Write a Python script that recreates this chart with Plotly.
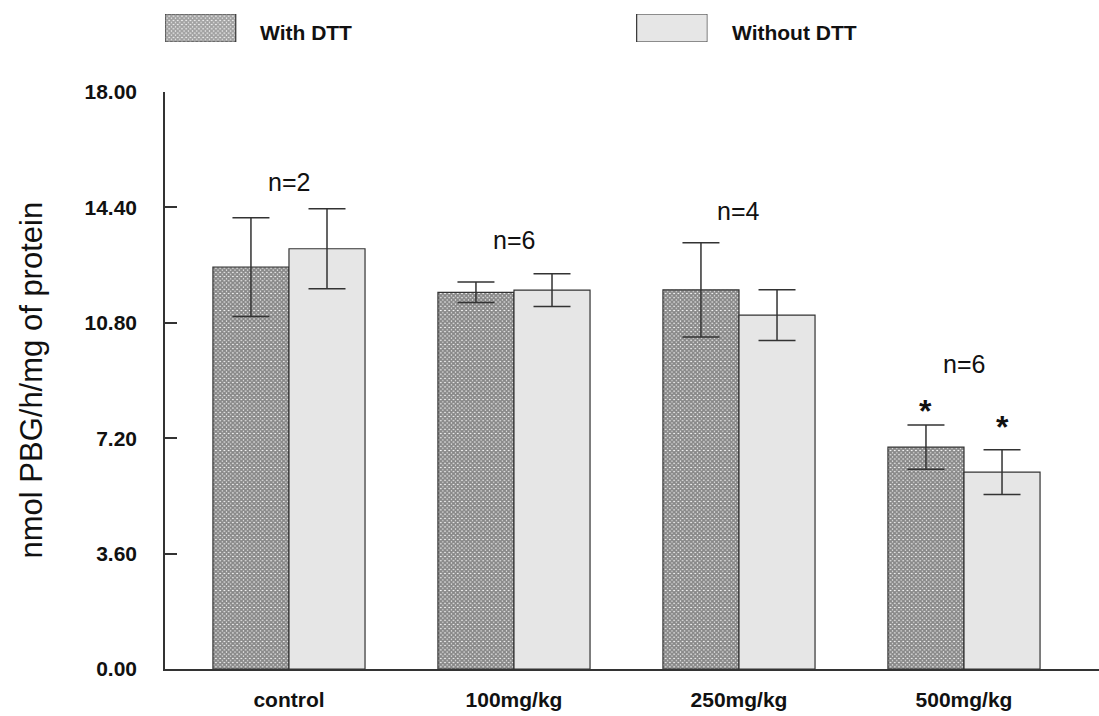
import plotly.graph_objects as go

# ---------------- data ----------------
categories = ["control", "100mg/kg", "250mg/kg", "500mg/kg"]
series_names = ["With DTT", "Without DTT"]
with_dtt = [12.54, 11.75, 11.83, 6.92]
with_dtt_err = [1.54, 0.32, 1.47, 0.69]
without_dtt = [13.11, 11.82, 11.04, 6.14]
without_dtt_err = [1.25, 0.51, 0.79, 0.70]
n_labels = ["n=2", "n=6", "n=4", "n=6"]
significant_with = [False, False, False, True]
significant_without = [False, False, False, True]
y_ticks = [0.0, 3.6, 7.2, 10.8, 14.4, 18.0]
y_tick_labels = ["0.00", "3.60", "7.20", "10.80", "14.40", "18.00"]
y_title = "nmol PBG/h/mg of protein"

# ---------------- style / layout ----------------
W, H = 1099, 716
FONT = "Liberation Sans, Arial, sans-serif"
AX = "#333333"
GRAY = "#e6e6e6"
HATCH = dict(shape="x", fgcolor="#111111", bgcolor="white", size=3, solidity=0.85)
bargap = 0.324
half = (1 - bargap) / 2          # width of one bar (category units)

plot_left, plot_top, plot_bottom = 165, 92, 669
x_dom = [plot_left / W, 1.0]
y_dom = [(H - plot_bottom) / H, (H - plot_top) / H]

# annotation placement (data units) for the n-labels and asterisks
n_label_y = [15.2, 13.38, 14.3, 9.5]
star_y_with = 8.05
star_y_without = 7.55

fig = go.Figure()

err_style = dict(type="data", color=AX, thickness=1.5, width=18.5)

fig.add_trace(go.Bar(
    x=categories, y=with_dtt, name=series_names[0],
    marker=dict(color="white", pattern=HATCH, line=dict(color=AX, width=1.2)),
    error_y=dict(array=with_dtt_err, **err_style),
    showlegend=False,
))
fig.add_trace(go.Bar(
    x=categories, y=without_dtt, name=series_names[1],
    marker=dict(color=GRAY, line=dict(color=AX, width=1.2)),
    error_y=dict(array=without_dtt_err, **err_style),
    showlegend=False,
))

# legend swatches drawn as bars on their own small axes
fig.add_trace(go.Bar(
    x=series_names, y=[1, 1], xaxis="x2", yaxis="y2", width=0.15,
    marker=dict(
        color=["white", GRAY],
        pattern=dict(shape=[HATCH["shape"], ""], fgcolor=HATCH["fgcolor"],
                     bgcolor=["white", GRAY], size=HATCH["size"], solidity=HATCH["solidity"]),
        line=dict(color=AX, width=1.2),
    ),
    showlegend=False, hoverinfo="skip",
))

annotations = []
for i, lab in enumerate(n_labels):
    annotations.append(dict(x=i, y=n_label_y[i], xref="x", yref="y", text=lab,
                            showarrow=False, font=dict(family=FONT, size=25, color="#111")))
for i, s in enumerate(significant_with):
    if s:
        annotations.append(dict(x=i - half / 2, y=star_y_with, xref="x", yref="y", text="*",
                                showarrow=False,
                                font=dict(family=FONT, size=32, color="#111", weight="bold")))
for i, s in enumerate(significant_without):
    if s:
        annotations.append(dict(x=i + half / 2, y=star_y_without, xref="x", yref="y", text="*",
                                showarrow=False,
                                font=dict(family=FONT, size=32, color="#111", weight="bold")))
for i, nm in enumerate(series_names):
    annotations.append(dict(x=i, y=0.5, xref="x2", yref="y2", text=nm,
                            xanchor="left", xshift=58, yshift=-5, showarrow=False,
                            font=dict(family=FONT, size=21, color="#111", weight="bold")))
annotations.append(dict(x=31 / W, y=(y_dom[0] + y_dom[1]) / 2, xref="paper", yref="paper",
                        xanchor="center", yanchor="middle",
                        text=y_title, textangle=-90, showarrow=False,
                        font=dict(family=FONT, size=31, color="#111")))

fig.update_layout(
    width=W, height=H,
    margin=dict(l=0, r=0, t=0, b=0, autoexpand=False),
    paper_bgcolor="white", plot_bgcolor="white",
    barmode="group", bargap=bargap, bargroupgap=0,
    font=dict(family=FONT, color="#111"),
    xaxis=dict(domain=x_dom, type="category", range=[-0.551, 3.6],
               showline=True, linecolor=AX, linewidth=1.5, ticks="",
               tickfont=dict(family=FONT, size=21, color="#111", weight="bold"),
               ticklabelstandoff=11,
               showgrid=False, zeroline=False, anchor="y", automargin=False),
    yaxis=dict(domain=y_dom, range=[0, 18], tickvals=y_ticks, ticktext=y_tick_labels,
               showline=True, linecolor=AX, linewidth=1.5,
               ticks="inside", ticklen=12, tickwidth=1.5, tickcolor=AX,
               tickfont=dict(family=FONT, size=21, color="#111", weight="bold"),
               ticklabelstandoff=22,
               showgrid=False, zeroline=False, anchor="x", automargin=False),
    xaxis2=dict(domain=[165 / W, 707.4 / W], range=[-0.075, 1.075], type="category",
                visible=False, anchor="y2", automargin=False),
    yaxis2=dict(domain=[1 - 42 / H, 1 - 14 / H], range=[0, 1], visible=False, anchor="x2",
                automargin=False),
    annotations=annotations,
)

fig.write_html("out.html")
